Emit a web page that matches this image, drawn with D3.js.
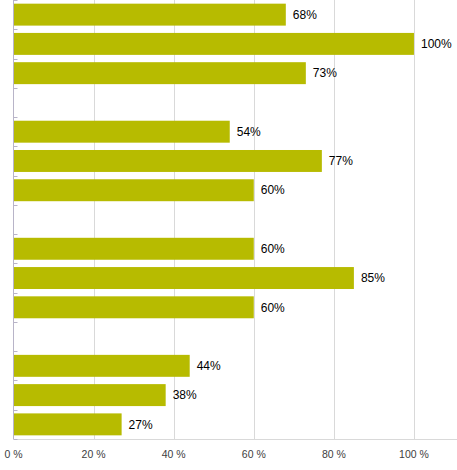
<!DOCTYPE html>
<html>
<head>
<meta charset="utf-8">
<script src="https://cdn.jsdelivr.net/npm/d3@7"></script>
<style>
  body { margin: 0; background: #fff; }
  text { font-family: "Liberation Sans", Arial, sans-serif; }
</style>
</head>
<body>
<div id="chart"></div>
<script>
// 15 slots: 4 groups of 3 bars, empty slot between groups
const slots = ["a1", "a2", "a3", "gap1", "b1", "b2", "b3", "gap2", "c1", "c2", "c3", "gap3", "d1", "d2", "d3"]
const values = [68, 100, 73, null, 54, 77, 60, null, 60, 85, 60, null, 44, 38, 27]
const xTicks = [0, 20, 40, 60, 80, 100]

const width = 457
const height = 470
const margin = { top: 0, right: 3, bottom: 31, left: 13.5 }

const svg = d3.select("#chart")
  .append("svg")
  .attr("width", width)
  .attr("height", height)

const x = d3.scaleLinear()
  .domain([0, 110])
  .range([margin.left, width - margin.right])

const y = d3.scaleBand()
  .domain(slots)
  .range([margin.top, height - margin.bottom])
  .paddingInner(0.25)
  .paddingOuter(0.125)

const yBase = height - margin.bottom

// gridlines
svg.append("g")
  .selectAll("line")
  .data(xTicks.slice(1))
  .join("line")
    .attr("x1", d => Math.round(x(d)) + 0.5)
    .attr("x2", d => Math.round(x(d)) + 0.5)
    .attr("y1", margin.top)
    .attr("y2", yBase)
    .attr("stroke", "#d9d9d9")

// bottom baseline
svg.append("line")
  .attr("x1", margin.left)
  .attr("x2", width)
  .attr("y1", yBase + 0.5)
  .attr("y2", yBase + 0.5)
  .attr("stroke", "#d9d9d9")

// bars
const data = slots.map((s, i) => ({ slot: s, value: values[i] })).filter(d => d.value != null)

svg.append("g")
  .selectAll("rect")
  .data(data)
  .join("rect")
    .attr("x", x(0))
    .attr("y", d => y(d.slot))
    .attr("width", d => x(d.value) - x(0))
    .attr("height", y.bandwidth())
    .attr("fill", "#b7bb00")

// value labels
svg.append("g")
  .selectAll("text")
  .data(data)
  .join("text")
    .attr("x", d => x(d.value) + 7)
    .attr("y", d => y(d.slot) + y.bandwidth() / 2)
    .attr("dy", "0.35em")
    .attr("font-size", 12)
    .attr("fill", "#000")
    .text(d => d.value + "%")

// left axis with ticks at slot boundaries
const step = y.step()
const boundaries = d3.range(slots.length + 1).map(i => margin.top + i * step)

svg.append("line")
  .attr("x1", margin.left)
  .attr("x2", margin.left)
  .attr("y1", margin.top)
  .attr("y2", yBase)
  .attr("stroke", "#b8b4c8")

svg.append("g")
  .selectAll("line")
  .data(boundaries)
  .join("line")
    .attr("x1", margin.left)
    .attr("x2", margin.left + 4)
    .attr("y1", d => Math.round(d) + 0.5)
    .attr("y2", d => Math.round(d) + 0.5)
    .attr("stroke", "#b8b4c8")

// x tick labels
svg.append("g")
  .selectAll("text")
  .data(xTicks)
  .join("text")
    .attr("x", d => x(d))
    .attr("y", yBase + 15)
    .attr("dy", "0.35em")
    .attr("text-anchor", "middle")
    .attr("font-size", 10.5)
    .attr("fill", "#404040")
    .text(d => d + " %")
</script>
</body>
</html>
